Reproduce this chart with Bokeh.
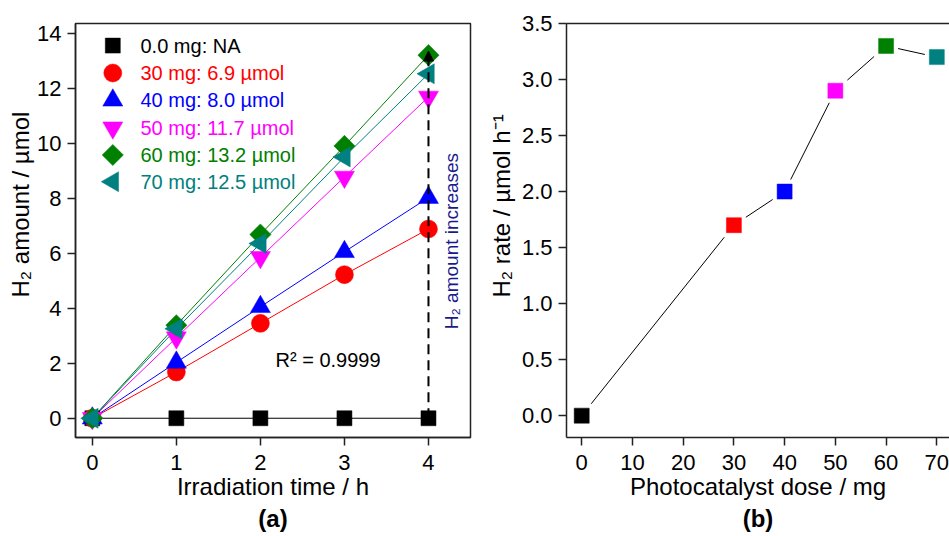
import math
from bokeh.plotting import figure
from bokeh.models import (Range1d, Label, Arrow, NormalHead, Title,
                          FixedTicker, LinearAxis, PrintfTickFormatter)
from bokeh.layouts import row
from bokeh.embed import file_html
from bokeh.resources import INLINE

# ---------------- data ----------------
time_h = [0, 1, 2, 3, 4]
amount_0mg = [0, 0, 0, 0, 0]
amount_30mg = [0, 1.68, 3.45, 5.22, 6.88]
amount_40mg = [0, 2.03, 4.05, 6.05, 8.02]
amount_50mg = [0, 2.93, 5.85, 8.77, 11.68]
amount_60mg = [0, 3.38, 6.68, 9.9, 13.2]
amount_70mg = [0, 3.25, 6.35, 9.5, 12.52]
series_labels = ["0.0 mg: NA", "30 mg: 6.9 µmol", "40 mg: 8.0 µmol",
                 "50 mg: 11.7 µmol", "60 mg: 13.2 µmol", "70 mg: 12.5 µmol"]
dose_mg = [0, 30, 40, 50, 60, 70]
rate_umol_h = [0, 1.7, 2.0, 2.9, 3.3, 3.2]
arrow_top = 13.35
r2_text = "R² = 0.9999"

# ---------------- styles / layout constants ----------------
FONT = "Liberation Sans"
AX = "#222222"
colors = ["#000000", "#ff0000", "#0000ff", "#ff00ff", "#008000", "#008080"]
markers = ["square", "circle", "triangle", "inverted_triangle", "square", "triangle"]
sizes = [15, 18, 20, 20, 15, 20]
angles = [0, 0, 0, 0, math.pi / 4, math.pi / 2]
series = [amount_0mg, amount_30mg, amount_40mg, amount_50mg, amount_60mg, amount_70mg]

FW1, FH = 395, 414                       # frame size of panel (a) in px
KEY_X, KEY_TEXT_X = 37.3, 65             # legend key / text x (px from frame left)
KEY_ROWS = [22.1, 49.5, 76.8, 104.2, 131.5, 158.2]  # px from frame top
YLABEL_OFFSET = 140                      # y-label start, px above frame bottom


def style_axes(p):
    for ax in p.xaxis + p.yaxis:
        ax.axis_line_color = AX
        ax.axis_line_width = 1.5
        ax.major_tick_line_color = AX
        ax.major_tick_line_width = 1.5
        ax.major_tick_out = 8
        ax.major_tick_in = 0
        ax.minor_tick_line_color = None
        ax.major_label_text_font = FONT
        ax.major_label_text_font_size = "22px"
        ax.major_label_text_color = "#000000"
        ax.axis_label_text_font = FONT
        ax.axis_label_text_font_size = "24px"
        ax.axis_label_text_font_style = "normal"
        ax.axis_label_text_color = "#000000"
    p.xaxis.major_label_standoff = 9
    p.yaxis.major_label_standoff = 6
    p.xaxis.axis_label_standoff = 0
    p.xgrid.grid_line_color = None
    p.ygrid.grid_line_color = None


def panel_title(p, text):
    p.add_layout(Title(text=text, align="center", text_font=FONT,
                       text_font_size="24px", text_font_style="bold",
                       text_color="#000000", standoff=0), "below")


def y_label(p, text, standoff):
    p.add_layout(Title(text=text, align="left", offset=YLABEL_OFFSET, text_font=FONT,
                       text_font_size="24px", text_font_style="normal",
                       text_color="#000000", standoff=standoff), "left")


# ---------------- panel (a) ----------------
p1 = figure(width=478, height=536, output_backend="svg", toolbar_location=None,
            x_range=Range1d(-0.2, 4.5), y_range=Range1d(-0.7, 14.35),
            min_border_left=75, min_border_right=8, min_border_top=23,
            min_border_bottom=99)
p1.outline_line_color = AX
p1.outline_line_width = 1.5
p1.background_fill_color = "white"
p1.border_fill_color = "white"
p1.xaxis.ticker = FixedTicker(ticks=time_h)
p1.yaxis.ticker = FixedTicker(ticks=list(range(0, 15, 2)))
p1.xaxis.axis_label = "Irradiation time / h"
style_axes(p1)
y_label(p1, "H₂ amount / µmol", 2)
panel_title(p1, "(a)")

for vals, c in zip(series, colors):
    p1.line(time_h, vals, line_color=c, line_width=1)
for vals, c, m, s, a in zip(series, colors, markers, sizes, angles):
    p1.scatter(time_h, vals, marker=m, size=s, angle=a,
               fill_color=c, line_color=c, line_width=0.5)

# dashed arrow at t = 4 h
p1.add_layout(Arrow(x_start=time_h[-1], y_start=0, x_end=time_h[-1], y_end=arrow_top,
                    line_color="black", line_width=2, line_dash="10 6",
                    end=NormalHead(size=10, fill_color="black", line_color="black",
                                   line_width=1)))

# legend keys drawn in a pixel-like helper range (frame px, y from the top)
p1.extra_x_ranges = {"key": Range1d(0, FW1)}
p1.extra_y_ranges = {"key": Range1d(FH, 0)}
for lab, c, m, s, a, yc in zip(series_labels, colors, markers, sizes, angles, KEY_ROWS):
    p1.scatter([KEY_X], [yc], marker=m, size=s, angle=a, fill_color=c, line_color=c,
               line_width=0.5, x_range_name="key", y_range_name="key")
    p1.add_layout(Label(x=KEY_TEXT_X, y=yc, x_range_name="key", y_range_name="key",
                        text=lab, text_font=FONT, text_font_size="20px",
                        text_color=c, text_baseline="middle"))

p1.add_layout(Label(x=2.18, y=2.12, text=r2_text, text_font=FONT,
                    text_font_size="20px", text_color="#000000",
                    text_baseline="alphabetic"))
p1.add_layout(Label(x=4.27, y=6.44, text="H₂ amount increases", text_font=FONT,
                    text_font_size="19px", text_color="#1a1a8c", angle=math.pi / 2,
                    text_align="center", text_baseline="middle"))

# ---------------- panel (b) ----------------
p2 = figure(width=471, height=536, output_backend="svg", toolbar_location=None,
            x_range=Range1d(-3, 72.5), y_range=Range1d(-0.195, 3.5),
            min_border_left=88, min_border_right=0, min_border_top=23,
            min_border_bottom=99)
p2.outline_line_color = None
p2.background_fill_color = "white"
p2.border_fill_color = "white"
p2.xaxis.ticker = FixedTicker(ticks=list(range(0, 71, 10)))
p2.yaxis.ticker = FixedTicker(ticks=[0, 0.5, 1.0, 1.5, 2.0, 2.5, 3.0, 3.5])
p2.yaxis.formatter = PrintfTickFormatter(format="%.1f")
p2.xaxis.axis_label = "Photocatalyst dose / mg"
style_axes(p2)
y_label(p2, "H₂ rate / µmol h⁻¹", 8)
top_ax = LinearAxis(ticker=FixedTicker(ticks=[]), major_label_text_font_size="0px",
                    major_tick_out=0, major_tick_in=0, minor_tick_line_color=None,
                    axis_line_color=AX, axis_line_width=1.5)
p2.add_layout(top_ax, "above")
panel_title(p2, "(b)")

p2.line(dose_mg, rate_umol_h, line_color="black", line_width=1)
p2.scatter(dose_mg, rate_umol_h, marker="square", size=24, fill_color="white",
           line_color=None)
p2.scatter(dose_mg, rate_umol_h, marker="square", size=15, fill_color=colors,
           line_color=colors, line_width=0.5)

layout = row(p1, p2)
open("out.html", "w").write(file_html(layout, INLINE))
